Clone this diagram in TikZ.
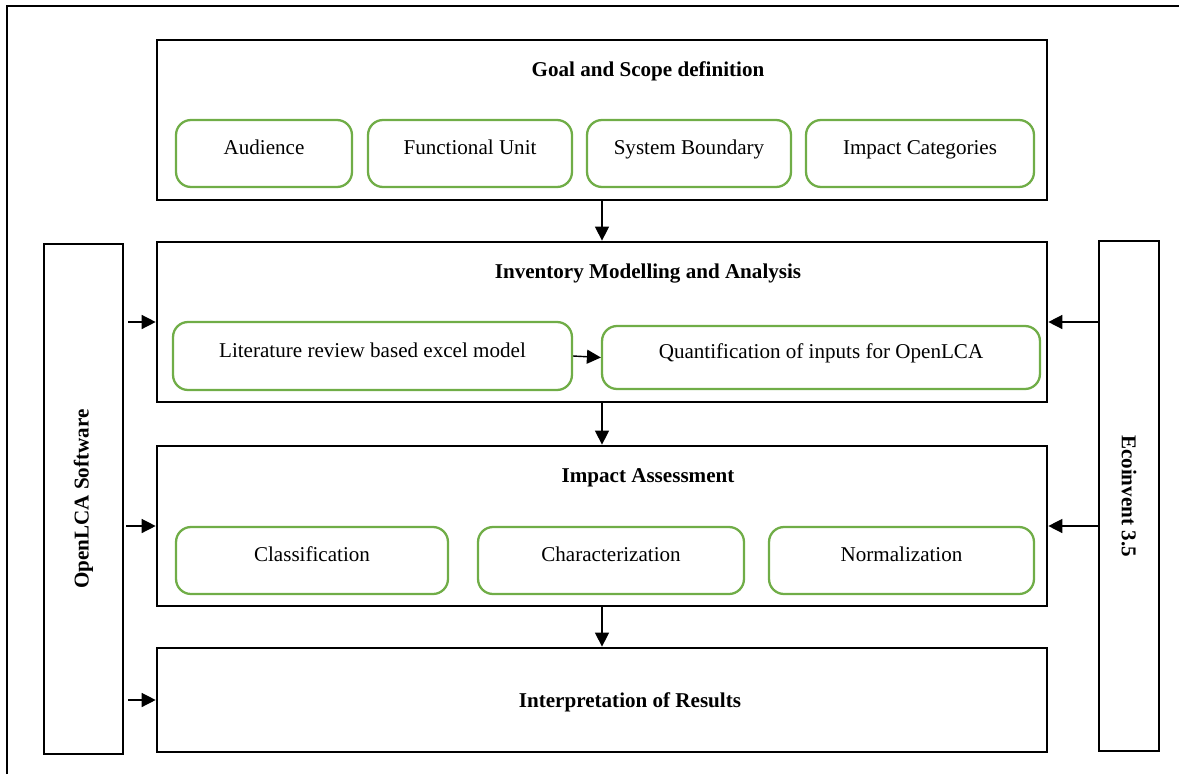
\documentclass[tikz,border=0pt]{standalone}
\usepackage{fontspec}
\setmainfont{Liberation Serif}
\usetikzlibrary{arrows.meta}
\definecolor{boxgreen}{RGB}{112, 173, 71}
\tikzstyle{stage} = [draw=black, line width=1.6pt, minimum width=17.8cm]
\tikzstyle{task} = [draw=boxgreen, line width=1.3pt, rounded corners=3mm,
    minimum height=1.34cm, text height=2.6mm, text depth=2.2mm]
\tikzstyle{tool} = [draw=black, line width=1.6pt, minimum width=10.2cm,
    font=\fontsize{12}{14}\selectfont\bfseries]
\tikzstyle{title} = [anchor=base, font=\fontsize{12}{14}\selectfont\bfseries]
\tikzstyle{arrow} = [line width=0.8pt,->,>={Triangle[length=2.8mm,width=2.8mm]}]

\begin{document}
\begin{tikzpicture}[x=0.02cm, y=-0.02cm, font=\fontsize{12}{14}\selectfont]
        \useasboundingbox (0,0) rectangle (1179,774);
        % Outer frame
        \draw [line width=1.1pt] (7,774) -- (7,6) -- (1179,6);

        % Goal and scope
        \node (goal) at (602,120) [stage, minimum height=3.2cm] {};
        \node (goaltitle) at (648,76) [title] {Goal and Scope definition};
        \node (audience) at (264,153.5) [task, minimum width=3.52cm] {Audience};
        \node (funit) at (470,153.5) [task, minimum width=4.08cm] {Functional Unit};
        \node (sysbound) at (689,153.5) [task, minimum width=4.08cm] {System Boundary};
        \node (impcat) at (920,153.5) [task, minimum width=4.56cm] {Impact Categories};

        % Inventory
        \node (inv) at (602,322) [stage, minimum height=3.2cm] {};
        \node (invtitle) at (648,278) [title] {Inventory Modelling and Analysis};
        \node (litmodel) at (372.5,356) [task, minimum width=7.98cm, minimum height=1.36cm] {Literature review based excel model};
        \node (quant) at (821,357.5) [task, minimum width=8.76cm, minimum height=1.26cm] {Quantification of inputs for OpenLCA};

        % Impact assessment
        \node (ia) at (602,526) [stage, minimum height=3.2cm] {};
        \node (iatitle) at (648,482) [title] {Impact Assessment};
        \node (classif) at (312,560.5) [task, minimum width=5.44cm] {Classification};
        \node (charact) at (611,560.5) [task, minimum width=5.32cm] {Characterization};
        \node (normal) at (901.5,560.5) [task, minimum width=5.30cm] {Normalization};

        % Interpretation
        \node (interp) at (602,700) [stage, minimum height=2.08cm] {};
        \node (interptitle) at (630,707) [title] {Interpretation of Results};

        % Software and database
        \node (openlca) at (83.5,499) [tool, rotate=90, minimum height=1.58cm] {OpenLCA Software};
        \node (ecoinvent) at (1129,496) [tool, rotate=-90, minimum height=1.2cm] {Ecoinvent 3.5};

        % Flow between stages
        \draw [arrow] (goal.south) -- (inv.north);
        \draw [arrow] (inv.south) -- (ia.north);
        \draw [arrow] (ia.south) -- (interp.north);
        \draw [arrow] (litmodel.east) -- (quant.west);

        % Tool inputs
        \draw [arrow, shorten <=0.08cm] (openlca.south |- inv.west) -- (inv.west);
        \draw [arrow, shorten <=0.04cm] (openlca.south |- ia.west) -- (ia.west);
        \draw [arrow, shorten <=0.08cm] (openlca.south |- interp.west) -- (interp.west);
        \draw [arrow] (ecoinvent.south |- inv.east) -- (inv.east);
        \draw [arrow] (ecoinvent.south |- ia.east) -- (ia.east);
    \end{tikzpicture}
\end{document}
